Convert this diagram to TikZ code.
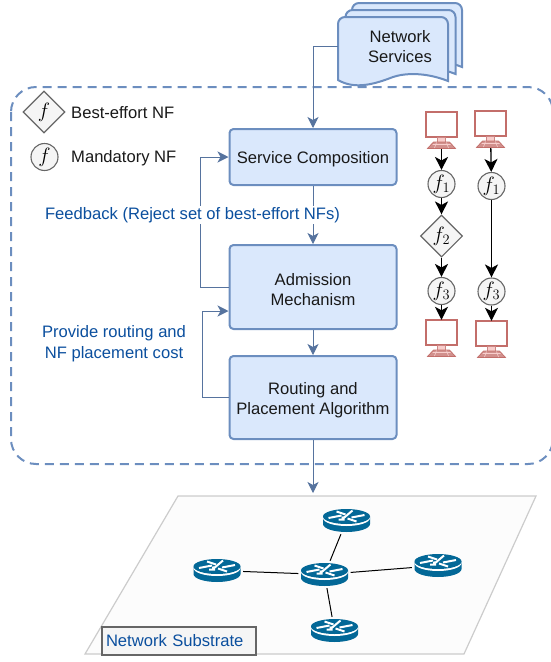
\documentclass[tikz,border=0pt]{standalone}
\usepackage{fontspec}
\setmainfont{Liberation Sans}
\usetikzlibrary{arrows.meta,shapes.geometric,calc}
\definecolor{boxfill}{HTML}{DAE8FC}
\definecolor{boxline}{HTML}{6C8EBF}
\definecolor{conn}{HTML}{56739E}
\definecolor{bluetxt}{HTML}{0B4F9E}
\definecolor{nfline}{HTML}{666666}
\definecolor{nffill}{HTML}{F5F5F5}
\definecolor{pcline}{HTML}{B85450}
\definecolor{pcfill}{HTML}{F8CECC}
\definecolor{router}{HTML}{036897}
\newcommand{\upfix}{\rule{0pt}{16.5pt}}
\tikzset{
  txt/.style={font=\fontsize{16.6}{20}\selectfont,align=center,text=black!90},
  procbox/.style={draw=boxline,fill=boxfill,line width=2pt,rounded corners=4pt,minimum width=167pt,inner sep=0pt,txt},
  conn/.style={draw=conn,line width=1pt,-{Stealth[length=11pt,width=11pt,inset=3pt]}},
  flow/.style={draw=black,line width=1.3pt,-{Stealth[length=13pt,width=13pt,inset=3.5pt]}},
  link/.style={draw=black,line width=1pt},
  nfc/.style={circle,draw=nfline,fill=nffill,line width=1.1pt,minimum size=27pt,inner sep=0pt,font=\fontsize{21}{21}\selectfont},
  nfd/.style={diamond,draw=nfline,fill=nffill,line width=1.1pt,minimum size=42pt,inner sep=0pt,font=\fontsize{21}{21}\selectfont},
  bluelab/.style={font=\fontsize{16.6}{21}\selectfont,align=center,text=bluetxt},
  docshape/.style={draw=boxline,fill=boxfill,line width=2pt},
  anchorbox/.style={minimum width=52pt,minimum height=27pt,inner sep=0pt},
  pcbox/.style={minimum width=32pt,minimum height=37pt,inner sep=0pt},
}
\newcommand{\docsheet}[2]{%
  \begin{scope}[shift={(#1,#2)}]
    \draw[docshape] [rounded corners=7pt] (338,80) -- (338,17) -- (448,17) [sharp corners] -- (448,81)
      .. controls (425,72) and (405,73) .. (393,77) .. controls (375,84) and (355,90) .. (338,80) -- cycle;
  \end{scope}}
\newcommand{\pcpic}[3]{% name, centre x, top y of the monitor
  \begin{scope}[shift={(#2,#3)}]
    \draw[pcline!85,line width=1.3pt,fill=white] (-15.5,0) rectangle (15.5,25);
    \draw[pcline!70,line width=.7pt,fill=pcfill] (-4,25.5) rectangle (4,30);
    \draw[pcline!85,line width=.7pt,fill=pcline!65] (-8,30) -- (8,30) -- (14,36.5) -- (-14,36.5) -- cycle;
    \draw[pcfill,line width=.6pt] (-9,32.5) -- (9,32.5) (-5,30.5) -- (-7,36) (5,30.5) -- (7,36);
    \node[pcbox] (#1) at (0,18.5) {};
  \end{scope}}
\newcommand{\routerpic}[3]{% name, centre x, centre y
  \begin{scope}[shift={(#2,#3)}]
    \fill[router] (-23.5,-4) -- (-23.5,3.5) arc[start angle=180,end angle=0,x radius=23.5,y radius=8] -- (23.5,-4) -- cycle;
    \fill[white] (-23.5,-4) -- (-23.5,-2.5) arc[start angle=180,end angle=0,x radius=23.5,y radius=8] -- (23.5,-4) -- cycle;
    \fill[router] (0,-4) ellipse[x radius=23.5,y radius=7.5];
    \draw[white,line width=2pt] (-18,-2.5) -- (-5,-5) (5,-3) -- (18,-5.5);
    \draw[white,line width=2pt] (-10,-9) -- (-1,-6) (1,-2) -- (10,1);
    \draw[white,line width=2pt] (6,-10) -- (-4,-1.5) (-8,-1) -- (-2,-1) (-3.5,-.5) -- (-4,-4);
    \node[anchorbox] (#1) at (0,0) {};
  \end{scope}}
\begin{document}
\begin{tikzpicture}[x=1pt,y=-1pt]
\useasboundingbox (0,0) rectangle (551,662);
\clip (0,0) rectangle (551,662);
% plane
\draw[draw=black!20,fill=black!1,line width=1.2pt] (178,496) -- (536,496) -- (464,654) -- (85,654) -- cycle;
% container
\draw[boxline,line width=2pt,dash pattern=on 9pt off 6pt,rounded corners=25pt] (11,87) rectangle (553,464);
% network services
\docsheet{14}{-14}
\docsheet{7.5}{-7}
\docsheet{0}{0}
\node[txt] (ns) at (400,47) {Network\\Services};
\coordinate (nsw) at (338,46);
% boxes
\node[procbox,minimum height=56pt] (b1) at (313,157) {\upfix Service Composition};
\node[procbox,minimum height=84pt] (b2) at (313,287) {\upfix Admission\\Mechanism};
\node[procbox,minimum height=83pt] (b3) at (313,397.5) {\upfix Routing and\\Placement Algorithm};
\coordinate (sub) at (313,493);
% connectors
\draw[conn] (nsw) -| (b1.north);
\draw[conn] (b1) -- (b2);
\draw[conn] (b2) -- (b3);
\draw[conn] (b3) -- (sub);
\draw[conn] (b2.west) -- ++(-28,0) |- (b1.west);
\draw[conn] (b3.west) -- ++(-26,0) |- ([yshift=-24pt]b2.west);
\node[bluelab,fill=white,inner xsep=0pt,inner ysep=1pt] (fb) at (192.5,215) {Feedback (Reject set of best-effort NFs)};
\node[bluelab] (pr) at (114,344) {Provide routing and\\NF placement cost};
% legend
\node[nfd] (legd) at (44,112) {$f$};
\node[nfc] (legc) at (44.5,157) {$f$};
\node[txt,anchor=west,inner sep=0pt] (legdt) at (71,113) {Best-effort NF};
\node[txt,anchor=west,inner sep=0pt] (legct) at (71,158) {Mandatory NF};
% chains
\pcpic{p1}{441.5}{112}
\pcpic{p2}{490.5}{111}
\pcpic{p3}{441.5}{320}
\pcpic{p4}{491.5}{321}
\node[nfc] (a1) at (441.5,184) {$f_1$};
\node[nfd] (a2) at (441.5,236) {$f_2$};
\node[nfc] (a3) at (441.5,291) {$f_3$};
\node[nfc] (c1) at (491.5,186) {$f_1$};
\node[nfc] (c3) at (491.5,291.5) {$f_3$};
\draw[flow] (p1) -- (a1);
\draw[flow] (a1) -- (a2);
\draw[flow] (a2) -- (a3);
\draw[flow] (a3) -- (p3);
\draw[flow] (p2) -- (c1);
\draw[flow] (c1) -- (c3);
\draw[flow] (c3) -- (p4);
% routers
\routerpic{rt}{346.5}{520.5}
\routerpic{rl}{217}{570.5}
\routerpic{rc}{324.5}{574.5}
\routerpic{rr}{438}{565.5}
\routerpic{rb}{334.5}{630.5}
\draw[link] (rt) -- (rc);
\draw[link] (rl) -- (rc);
\draw[link] (rc) -- (rr);
\draw[link] (rc) -- (rb);
% substrate label
\node[draw=black!60,fill=nffill,line width=1.2pt,text width=146pt,inner xsep=4pt,inner ysep=0pt,minimum height=28pt,align=left,font=\fontsize{16.6}{18}\selectfont,text=bluetxt] (subl) at (179,641) {Network Substrate};
\end{tikzpicture}
\end{document}
